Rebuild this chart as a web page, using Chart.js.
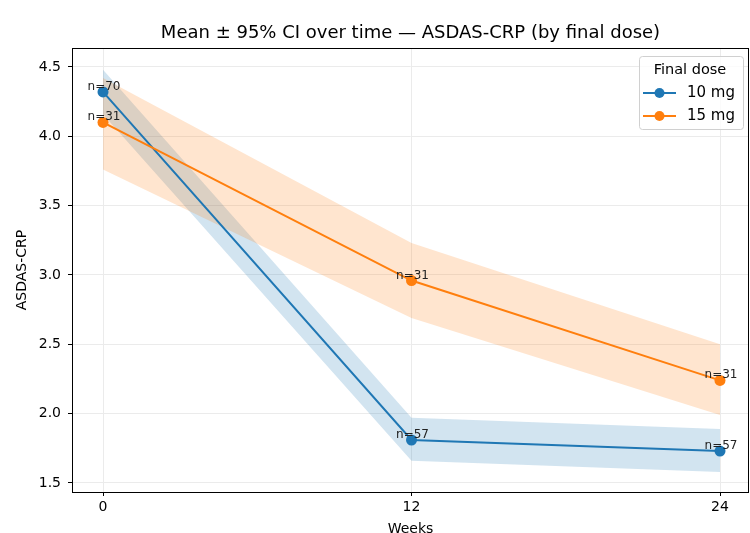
<!DOCTYPE html>
<html>
<head>
<meta charset="utf-8">
<script src="https://cdn.jsdelivr.net/npm/chart.js@4/dist/chart.umd.min.js"></script>
<style>
  html, body { margin: 0; padding: 0; background: #ffffff; }
  #wrap { width: 750px; height: 533px; }
</style>
</head>
<body>
<div id="wrap"><canvas id="grafica" width="750" height="533"></canvas></div>
<script>
const weeks = [0, 12, 24];
const mean10 = [4.32, 1.81, 1.73];
const lo10 = [4.16, 1.66, 1.58];
const hi10 = [4.48, 1.97, 1.89];
const mean15 = [4.10, 2.96, 2.24];
const lo15 = [3.76, 2.69, 1.99];
const hi15 = [4.42, 3.23, 2.50];
const n10 = [70, 57, 57];
const n15 = [31, 31, 31];
const yTicks = [1.5, 2.0, 2.5, 3.0, 3.5, 4.0, 4.5];
const xTicks = [0, 12, 24];

const azul = '#1f77b4';
const naranja = '#ff7f0e';
const fuente = 'DejaVu Sans';

const puntos = (ys) => weeks.map((w, i) => ({ x: w, y: ys[i] }));

// bandas primero se dibujan, lineas encima
const banda = (ys, color, fill) => ({
    data: puntos(ys),
    borderWidth: 0,
    pointRadius: 0,
    backgroundColor: color,
    fill: fill,
    tension: 0
});

const linea = (ys, color) => ({
    data: puntos(ys),
    borderColor: color,
    backgroundColor: color,
    borderWidth: 2,
    pointRadius: 5.5,
    pointHoverRadius: 5.5,
    pointBorderWidth: 0,
    fill: false,
    tension: 0
});

const extras = {
    id: 'extras',
    afterDraw(chart) {
        const ctx = chart.ctx;
        const { left, top, right, bottom } = chart.chartArea;
        const xs = chart.scales.x;
        const ys = chart.scales.y;
        ctx.save();

        // marco
        ctx.strokeStyle = '#000';
        ctx.lineWidth = 1;
        ctx.strokeRect(left + 0.5, top + 0.5, right - left - 1, bottom - top);

        // titulo
        ctx.fillStyle = '#000';
        ctx.font = `18px "${fuente}"`;
        ctx.textAlign = 'center';
        ctx.textBaseline = 'middle';
        ctx.fillText('Mean \u00b1 95% CI over time \u2014 ASDAS-CRP (by final dose)', (left + right) / 2, 33);

        // etiquetas n=
        ctx.font = `12px "${fuente}"`;
        ctx.textBaseline = 'alphabetic';
        ctx.fillStyle = '#222';
        weeks.forEach((w, i) => {
            ctx.fillText('n=' + n10[i], xs.getPixelForValue(w) + 1, ys.getPixelForValue(mean10[i]) - 2);
            ctx.fillText('n=' + n15[i], xs.getPixelForValue(w) + 1, ys.getPixelForValue(mean15[i]) - 2);
        });

        // leyenda
        const bx = 639, by = 56, bw = 104, bh = 73;
        ctx.beginPath();
        ctx.roundRect(bx + 0.5, by + 0.5, bw, bh, 3);
        ctx.fillStyle = 'rgba(255,255,255,0.8)';
        ctx.fill();
        ctx.strokeStyle = '#d0d0d0';
        ctx.stroke();

        ctx.fillStyle = '#000';
        ctx.font = `14.5px "${fuente}"`;
        ctx.textAlign = 'center';
        ctx.textBaseline = 'middle';
        ctx.fillText('Final dose', 690, 70);

        ctx.font = `15px "${fuente}"`;
        const items = [['10 mg', azul, 93], ['15 mg', naranja, 116]];
        items.forEach(([label, color, y]) => {
            ctx.strokeStyle = color;
            ctx.lineWidth = 2;
            ctx.beginPath();
            ctx.moveTo(643, y);
            ctx.lineTo(676, y);
            ctx.stroke();
            ctx.fillStyle = color;
            ctx.beginPath();
            ctx.arc(659.5, y, 5, 0, Math.PI * 2);
            ctx.fill();
            ctx.fillStyle = '#000';
            ctx.textAlign = 'left';
            ctx.fillText(label, 687, y);
        });
        ctx.restore();
    }
};

const ctx = document.getElementById('grafica').getContext('2d');
const myChart = new Chart(ctx, {
    type: 'line',
    data: {
        datasets: [
            linea(mean15, naranja),
            linea(mean10, azul),
            banda(hi15, 'rgba(255,127,14,0.2)', '+1'),
            banda(lo15, 'rgba(255,127,14,0.2)', false),
            banda(hi10, 'rgba(31,119,180,0.2)', '+1'),
            banda(lo10, 'rgba(31,119,180,0.2)', false)
        ]
    },
    plugins: [extras],
    options: {
        responsive: false,
        animation: false,
        events: [],
        layout: { autoPadding: false, padding: { top: 48, right: 1, left: 0, bottom: 0 } },
        plugins: {
            legend: { display: false },
            title: { display: false },
            tooltip: { enabled: false }
        },
        scales: {
            x: {
                type: 'linear',
                min: -1.206,
                max: 25.128,
                afterBuildTicks: (scale) => { scale.ticks = xTicks.map(v => ({ value: v })); },
                afterFit: (scale) => { scale.height = 41; scale.paddingLeft = 0; scale.paddingRight = 0; },
                grid: { color: '#ebebeb', tickColor: '#000', tickLength: 4, drawTicks: true },
                border: { display: false },
                ticks: { color: '#000', padding: 3, font: { family: fuente, size: 14 }, maxRotation: 0 },
                title: { display: true, text: 'Weeks', color: '#000', font: { family: fuente, size: 14 }, padding: { top: 0, bottom: -5 } }
            },
            y: {
                min: 1.435,
                max: 4.637,
                afterBuildTicks: (scale) => { scale.ticks = yTicks.map(v => ({ value: v })); },
                afterFit: (scale) => { scale.width = 72; scale.paddingTop = 0; scale.paddingBottom = 0; },
                grid: { color: '#ebebeb', tickColor: '#000', tickLength: 4, drawTicks: true },
                border: { display: false },
                ticks: { color: '#000', padding: 7, font: { family: fuente, size: 14 }, callback: (v) => v.toFixed(1) },
                title: { display: true, text: 'ASDAS-CRP', color: '#000', font: { family: fuente, size: 14 }, padding: { top: 14, bottom: 0 } }
            }
        }
    }
});
</script>
</body>
</html>
